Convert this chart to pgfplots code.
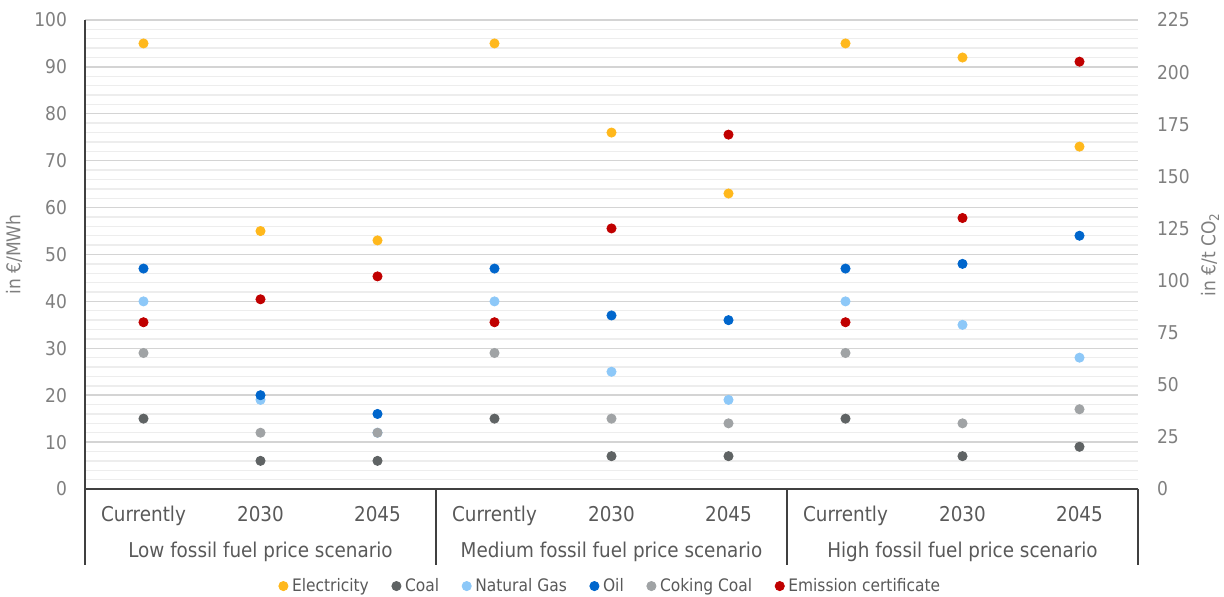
\documentclass[border=0pt]{standalone}
\usepackage{pgfplots}
\pgfplotsset{compat=1.18}
\usepackage{fontspec}
\setmainfont{DejaVu Sans Condensed}
\definecolor{elec}{HTML}{FFB81C}
\definecolor{coal}{HTML}{5F6364}
\definecolor{gas}{HTML}{8DC8F8}
\definecolor{oil}{HTML}{0066CC}
\definecolor{coking}{HTML}{A0A3A5}
\definecolor{emis}{HTML}{C00000}
\definecolor{tickgray}{HTML}{7F7F7F}
\definecolor{labgray}{HTML}{595959}
\definecolor{axgray}{HTML}{404040}
\begin{document}
\begin{tikzpicture}
\useasboundingbox (-42.5pt,-54pt) rectangle (569.5pt,244.5pt);
\begin{axis}[
  at={(0,0)}, anchor=south west, scale only axis,
  width=526.5pt, height=234.5pt,
  xmin=-0.5, xmax=8.5, ymin=0, ymax=100,
  ytick={0,10,...,100}, minor y tick num=4,
  ymajorgrids, yminorgrids,
  major grid style={draw=black!17, line width=0.7pt},
  minor grid style={draw=black!7, line width=0.7pt},
  xtick={0,...,8},
  xticklabels={Currently,2030,2045,Currently,2030,2045,Currently,2030,2045},
  major tick length=0pt, minor tick length=0pt,
  axis x line*=bottom, axis y line*=left,
  axis line style={-, draw=axgray, line width=0.8pt},
  clip=false,
  /pgf/number format/assume math mode=true,
  yticklabel style={font=\fontsize{9.5}{11}\selectfont, text=tickgray, xshift=-5.5pt},
  xticklabel style={font=\fontsize{10.2}{12}\selectfont, text=labgray, yshift=-5pt},
  ylabel={in €/MWh},
  ylabel style={font=\fontsize{9.5}{11}\selectfont, text=tickgray, at={(axis description cs:-0.0674,0.5)}, anchor=center},
  legend style={at={(0.5,-0.207)}, anchor=center, draw=none, fill=none,
    font=\fontsize{8.6}{10}\selectfont, text=labgray,
    /tikz/every even column/.append style={column sep=9.5pt},
    inner sep=0pt},
  legend columns=6,
  legend cell align=left,
  legend image post style={mark size=2.3pt},
]
\addplot[only marks, mark=*, mark size=2.3pt, color=elec] coordinates {(0,95) (1,55) (2,53) (3,95) (4,76) (5,63) (6,95) (7,92) (8,73)};
\addlegendentry{Electricity}
\addplot[only marks, mark=*, mark size=2.3pt, color=coal] coordinates {(0,15) (1,6) (2,6) (3,15) (4,7) (5,7) (6,15) (7,7) (8,9)};
\addlegendentry{Coal}
\addplot[only marks, mark=*, mark size=2.3pt, color=gas] coordinates {(0,40) (1,19) (2,12) (3,40) (4,25) (5,19) (6,40) (7,35) (8,28)};
\addlegendentry{Natural Gas}
\addplot[only marks, mark=*, mark size=2.3pt, color=oil] coordinates {(0,47) (1,20) (2,16) (3,47) (4,37) (5,36) (6,47) (7,48) (8,54)};
\addlegendentry{Oil}
\addplot[only marks, mark=*, mark size=2.3pt, color=coking] coordinates {(0,29) (1,12) (2,12) (3,29) (4,15) (5,14) (6,29) (7,14) (8,17)};
\addlegendentry{Coking Coal}
\addlegendimage{only marks, mark=*, color=emis}
\addlegendentry{Emission certificate}
\foreach \xx in {-0.5,2.5,5.5,8.5} {
  \edef\temp{\noexpand\draw[draw=axgray, line width=0.8pt] (axis cs:\xx,0) -- ([yshift=-38pt]axis cs:\xx,0);}
  \temp
}
\node[font=\fontsize{10.2}{12}\selectfont, text=labgray, yshift=-31.5pt] at (axis cs:1,0) {Low fossil fuel price scenario};
\node[font=\fontsize{10.2}{12}\selectfont, text=labgray, yshift=-31.5pt] at (axis cs:4,0) {Medium fossil fuel price scenario};
\node[font=\fontsize{10.2}{12}\selectfont, text=labgray, yshift=-31.5pt] at (axis cs:7,0) {High fossil fuel price scenario};
\end{axis}
\begin{axis}[
  at={(0,0)}, anchor=south west, scale only axis,
  width=526.5pt, height=234.5pt,
  xmin=-0.5, xmax=8.5, ymin=0, ymax=225,
  ytick={0,25,...,225},
  hide x axis,
  axis y line*=right,
  y axis line style={draw=none},
  major tick length=0pt,
  clip=false,
  /pgf/number format/assume math mode=true,
  yticklabel style={font=\fontsize{9.5}{11}\selectfont, text=tickgray, xshift=6pt},
  ylabel={in €/t CO\textsubscript{2}},
  ylabel style={font=\fontsize{9.5}{11}\selectfont, text=tickgray, at={(axis description cs:1.0684,0.5)}, anchor=center},
]
\addplot[only marks, mark=*, mark size=2.3pt, color=emis] coordinates {(0,80) (1,91) (2,102) (3,80) (4,125) (5,170) (6,80) (7,130) (8,205)};
\end{axis}
\end{tikzpicture}
\end{document}
